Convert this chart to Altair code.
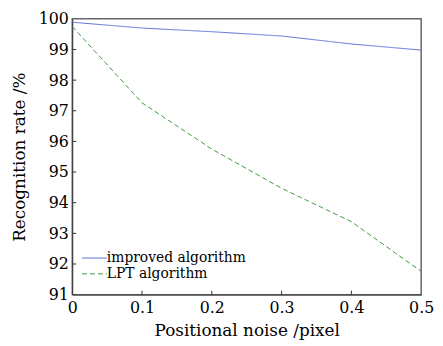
import altair as alt
import pandas as pd

noise = [0, 0.1, 0.2, 0.3, 0.4, 0.5]
improved = [99.89, 99.70, 99.58, 99.44, 99.18, 98.98]
lpt = [99.75, 97.26, 95.75, 94.47, 93.38, 91.76]
series_names = ["improved algorithm", "LPT algorithm"]
series_colors = ["#5b6fd4", "#3f9a3f"]
x_ticks = [0.1, 0.2, 0.3, 0.4]
y_ticks = [92, 93, 94, 95, 96, 97, 98, 99]
y_labels = [91, 92, 93, 94, 95, 96, 97, 98, 99, 100]

df = pd.DataFrame({
    "noise": noise * 2,
    "rate": improved + lpt,
    "series": [series_names[0]] * len(noise) + [series_names[1]] * len(noise),
})
xt = pd.DataFrame({"noise": x_ticks})
yt = pd.DataFrame({"rate": y_ticks})

W, H = 353, 279
FONT = "DejaVu Serif"
xscale = alt.Scale(domain=[0, 0.5], nice=False, zero=False)
yscale = alt.Scale(domain=[91, 100], nice=False, zero=False)
axis_style = dict(labelFont=FONT, titleFont=FONT, labelFontSize=16, titleFontSize=17,
                  labelColor="#000", titleColor="#000", titleFontWeight="normal",
                  domainColor="#333", domainWidth=1, ticks=False, grid=False,
                  labelOverlap=False, labelFlush=False)
xaxis = alt.Axis(title="Positional noise /pixel", values=noise, format="~g",
                 labelPadding=5, titlePadding=7, **axis_style)
yaxis = alt.Axis(title="Recognition rate /%", values=y_labels,
                 labelPadding=4, titlePadding=10, **axis_style)

lines = alt.Chart(df).mark_line(strokeWidth=1).encode(
    x=alt.X("noise:Q", scale=xscale, axis=xaxis),
    y=alt.Y("rate:Q", scale=yscale, axis=yaxis),
    color=alt.Color("series:N", scale=alt.Scale(domain=series_names, range=series_colors), legend=None),
    strokeDash=alt.StrokeDash("series:N", scale=alt.Scale(domain=series_names, range=[[1, 0], [5, 3]]),
                              legend=None),
)

xtick = alt.Chart(xt).mark_rule(color="#333", strokeWidth=1).encode(
    x=alt.X("noise:Q", scale=xscale, axis=xaxis), y=alt.value(H), y2=alt.value(H - 4))
ytick = alt.Chart(yt).mark_rule(color="#333", strokeWidth=1).encode(
    y=alt.Y("rate:Q", scale=yscale, axis=yaxis), x=alt.value(0), x2=alt.value(4))

legend_layers = []
for i, (name, col) in enumerate(zip(series_names, series_colors)):
    ly = 242 + 16 * i
    ldf = pd.DataFrame({"series": [name]})
    legend_layers.append(
        alt.Chart(ldf).mark_rule(color=col, strokeWidth=1,
                                 strokeDash=[1, 0] if i == 0 else [5, 3]).encode(
            x=alt.value(10), x2=alt.value(35), y=alt.value(ly)))
    legend_layers.append(
        alt.Chart(ldf).mark_text(font=FONT, fontSize=14, color="#000", align="left",
                                 baseline="middle").encode(
            text="series:N", x=alt.value(35), y=alt.value(ly)))

chart = alt.layer(lines, xtick, ytick, *legend_layers).properties(
    width=W, height=H,
    autosize=alt.AutoSizeParams(type="none"),
    padding={"left": 65, "top": 9, "right": 14, "bottom": 50},
).configure_view(stroke="#666", strokeWidth=1.5)

chart.save("out.html", embed_options={"renderer": "svg", "actions": False})
